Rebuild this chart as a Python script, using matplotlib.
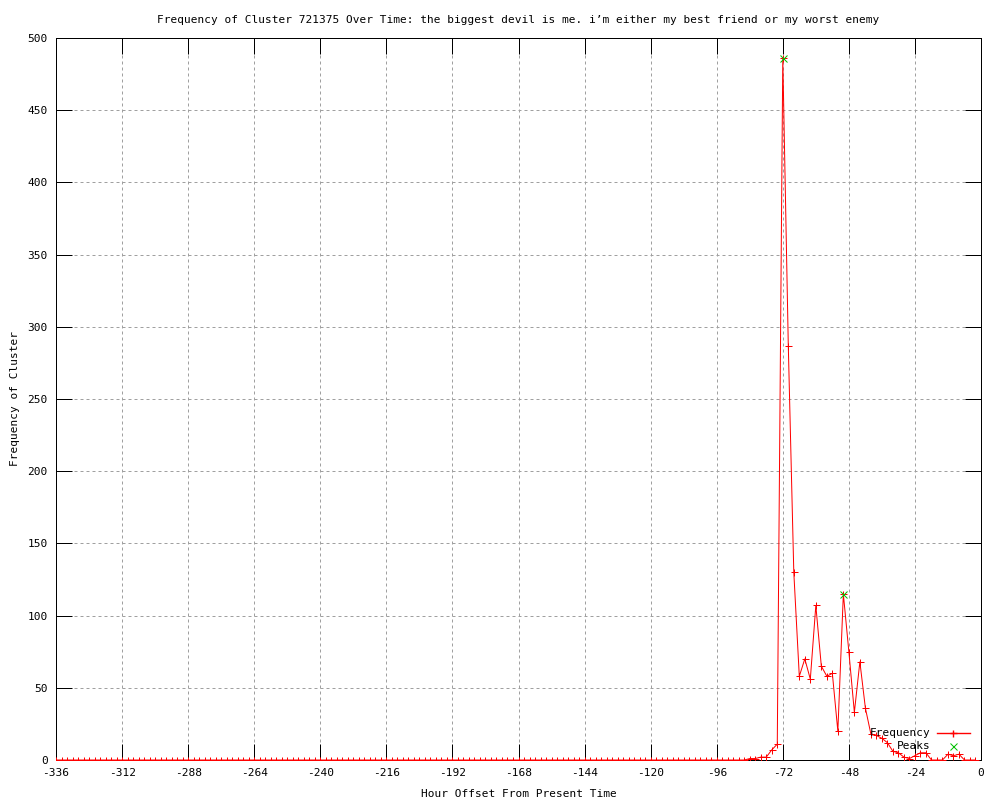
import numpy as np
import matplotlib
matplotlib.use("Agg")
import matplotlib.pyplot as plt
from matplotlib.lines import Line2D

# ---------------- data ----------------
hours = np.arange(-336, 0, 2)  # hourly offsets, sampled every 2 hours (-336 .. -2)

freq_quiet = [  # -336 .. -92
    0, 0, 0, 0, 0, 0, 0, 0, 0, 0, 0, 0, 0, 0, 0, 0, 0, 0, 0, 0,
    0, 0, 0, 0, 0, 0, 0, 0, 0, 0, 0, 0, 0, 0, 0, 0, 0, 0, 0, 0,
    0, 0, 0, 0, 0, 0, 0, 0, 0, 0, 0, 0, 0, 0, 0, 0, 0, 0, 0, 0,
    0, 0, 0, 0, 0, 0, 0, 0, 0, 0, 0, 0, 0, 0, 0, 0, 0, 0, 0, 0,
    0, 0, 0, 0, 0, 0, 0, 0, 0, 0, 0, 0, 0, 0, 0, 0, 0, 0, 0, 0,
    0, 0, 0, 0, 0, 0, 0, 0, 0, 0, 0, 0, 0, 0, 0, 0, 0, 0, 0, 0,
    0, 0, 0,
]
freq_active = [  # -90 .. -2
    0, 0, 0, 1, 1, 2, 2, 7, 11, 486,
    287, 130, 58, 70, 56, 107, 65, 58, 60, 20,
    115, 75, 33, 68, 36, 18, 17, 15, 12, 6,
    5, 2, 1, 3, 5, 5, 0, 0, 0, 4,
    3, 4, 0, 0, 0,
]
frequency = freq_quiet + freq_active

peak_hours = [-72, -50]
peak_values = [486, 115]

xticks = list(range(-336, 1, 24))
yticks = list(range(0, 501, 50))

title = ("Frequency of Cluster 721375 Over Time: the biggest devil is me. "
         "i\u2019m either my best friend or my worst enemy")
xlabel = "Hour Offset From Present Time"
ylabel = "Frequency of Cluster"

# ---------------- style ----------------
plt.rcParams['font.family'] = ['DejaVu Sans Mono', 'DejaVu Sans']
plt.rcParams['font.size'] = 8
plt.rcParams['axes.unicode_minus'] = False

PX = 72.0 / 100.0  # one pixel in points at dpi=100

fig = plt.figure(figsize=(10, 8), dpi=100)
ax = fig.add_axes([0.056, 0.05, 0.925, 0.9025])

ax.plot(hours, frequency, color='red', linewidth=PX, marker='+',
        markersize=7 * PX, markeredgewidth=PX, zorder=3)
ax.plot(peak_hours, peak_values, linestyle='none', color='#00c000', marker='x',
        markersize=7 * PX, markeredgewidth=PX, zorder=4)

ax.set_xlim(-336, 0)
ax.set_ylim(0, 500)
ax.set_xticks(xticks)
ax.set_yticks(yticks)

ax.grid(True, color='#a0a0a0', linestyle=(0, (3, 3)), linewidth=PX)
ax.set_axisbelow(True)

ax.tick_params(direction='in', length=11.5, width=PX, top=True, right=True,
               labelsize=8, pad=6, colors='black')
for sp in ax.spines.values():
    sp.set_linewidth(PX)
    sp.set_color('black')

ax.set_title(title, fontsize=8, pad=11)
ax.set_xlabel(xlabel, fontsize=8, labelpad=8)
ax.set_ylabel(ylabel, fontsize=8, labelpad=5)

# gnuplot-like legend (right-aligned text, sample on the right)
tr = ax.transAxes
ax.text(0.945, 0.0374, "Frequency", transform=tr, ha='right', va='center', fontsize=8)
ax.text(0.945, 0.0194, "Peaks", transform=tr, ha='right', va='center', fontsize=8)
ax.add_line(Line2D([0.9524, 0.988], [0.0374, 0.0374], transform=tr, color='red',
                   linewidth=1.0))
ax.add_line(Line2D([0.970], [0.0374], transform=tr, color='red', marker='+',
                   markersize=7 * PX, markeredgewidth=1.0, linestyle='none'))
ax.add_line(Line2D([0.970], [0.0194], transform=tr, color='#00c000', marker='x',
                   markersize=7 * PX, markeredgewidth=PX, linestyle='none'))

fig.savefig("out.png", dpi=100)
